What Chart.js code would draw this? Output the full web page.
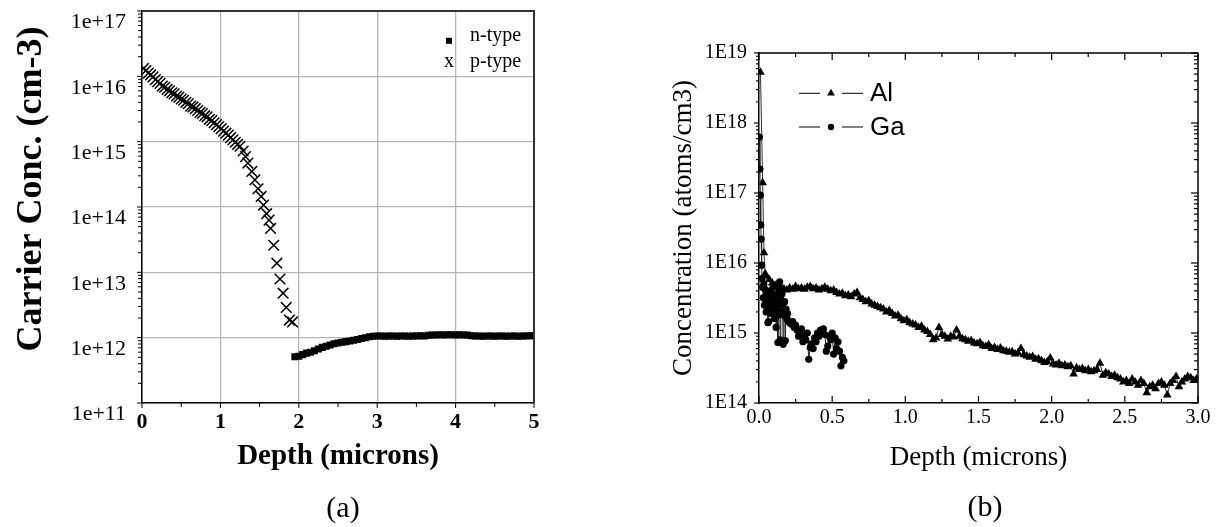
<!DOCTYPE html>
<html>
<head>
<meta charset="utf-8">
<script src="https://cdn.jsdelivr.net/npm/chart.js@4/dist/chart.umd.min.js"></script>
<style>
  html, body { margin: 0; padding: 0; background: #fff; }
  body { width: 1216px; height: 527px; position: relative; overflow: hidden; }
  canvas { position: absolute; top: 0; }
  #ca { left: 0; }
  #cb { left: 620px; }
  .cap { position: absolute; font-family: 'Liberation Serif', 'Times New Roman', serif; font-size: 30px; color: #000; line-height: 1; transform: translate(-50%, -50%); white-space: nowrap; }
</style>
</head>
<body>
<canvas id="ca" width="580" height="527"></canvas>
<canvas id="cb" width="596" height="527"></canvas>
<div class="cap" style="left:343px; top:507px;">(a)</div>
<div class="cap" style="left:985px; top:506px;">(b)</div>
<script>
// ---------------- Panel (a) data ----------------
const pDepth = [0.02,0.05,0.08,0.11,0.14,0.17,0.20,0.23,0.26,0.29,0.32,0.35,0.38,0.41,0.44,0.47,0.50,0.53,0.56,0.59,0.62,0.65,0.68,0.71,0.74,0.77,0.80,0.83,0.86,0.89,0.92,0.95,0.98,1.01,1.04,1.07,1.10,1.13,1.16,1.19,1.22,1.25,
  1.29,1.32,1.35,1.40,1.44,1.48,1.52,1.55,1.59,1.62,1.64,1.68,1.72,1.76,1.80,1.84,1.88,1.92];
const pConc = [1.32e16,1.23e16,1.12e16,1.05e16,9.8e15,8.9e15,8.3e15,7.8e15,7.1e15,6.8e15,6.3e15,6.0e15,5.6e15,5.4e15,5.0e15,4.8e15,4.5e15,4.3e15,4.0e15,3.8e15,3.5e15,3.4e15,3.2e15,3.0e15,2.8e15,2.7e15,2.5e15,2.4e15,2.2e15,2.1e15,1.95e15,1.82e15,1.70e15,1.58e15,1.45e15,1.35e15,1.26e15,1.15e15,1.07e15,9.8e14,9.1e14,8.5e14,
  7.2e14,5.9e14,4.7e14,3.5e14,2.6e14,1.9e14,1.45e14,1.07e14,7.9e13,6.3e13,4.7e13,2.6e13,1.38e13,7.9e12,4.8e12,2.9e12,1.86e12,1.74e12];

const nDepth = [1.95,2.00,2.05,2.10,2.15,2.20,2.25,2.30,2.35,2.40,2.45,2.50,2.55,2.60,2.65,2.70,2.75,2.80,2.85,2.90,2.95,
  3.00,3.05,3.10,3.15,3.20,3.25,3.30,3.35,3.40,3.45,3.50,3.55,3.60,3.65,3.70,3.75,3.80,3.85,3.90,3.95,
  4.00,4.05,4.10,4.15,4.20,4.25,4.30,4.35,4.40,4.45,4.50,4.55,4.60,4.65,4.70,4.75,4.80,4.85,4.90,4.95,5.00];
const nConc = [5.1e11,5.2e11,5.5e11,5.8e11,6.0e11,6.3e11,6.7e11,7.1e11,7.4e11,7.7e11,8.1e11,8.3e11,8.5e11,8.7e11,8.9e11,9.1e11,9.4e11,9.7e11,1.00e12,1.03e12,1.05e12,
  1.06e12,1.06e12,1.05e12,1.06e12,1.06e12,1.05e12,1.06e12,1.06e12,1.05e12,1.06e12,1.06e12,1.07e12,1.06e12,1.09e12,1.10e12,1.10e12,1.11e12,1.10e12,1.11e12,1.11e12,
  1.10e12,1.11e12,1.10e12,1.10e12,1.07e12,1.06e12,1.06e12,1.05e12,1.06e12,1.06e12,1.05e12,1.06e12,1.06e12,1.05e12,1.06e12,1.06e12,1.05e12,1.06e12,1.06e12,1.07e12,1.07e12];

const aXTicks = [0,1,2,3,4,5];
const aXMinor = [0.5,1.5,2.5,3.5,4.5];
const aYTicks = [1e11,1e12,1e13,1e14,1e15,1e16,1e17];

// ---------------- Panel (b) data ----------------
const alDepth = [0.010,0.025,0.034,0.042,
  0.05,0.07,0.09,0.11,0.13,0.15,0.17,0.19,0.21,0.23,0.25,0.27,0.29,0.31,0.33,0.35,0.37,0.39,0.41,0.43,0.45,0.47,0.49,
  0.51,0.53,0.55,0.57,0.59,0.61,0.63,0.65,0.67,0.69,0.71,0.73,0.75,0.77,0.79,0.81,0.83,0.85,0.87,0.89,0.91,0.93,0.95,0.97,0.99,
  1.01,1.03,1.05,1.07,1.09,1.11,1.13,1.15,1.17,1.19,1.21,1.23,1.25,1.27,1.29,1.31,1.33,1.35,1.37,1.39,1.41,1.43,1.45,1.47,1.49,
  1.51,1.53,1.55,1.57,1.59,1.61,1.63,1.65,1.67,1.69,1.71,1.73,1.75,1.77,1.79,1.81,1.83,1.85,1.87,1.89,1.91,1.93,1.95,1.97,1.99,
  2.01,2.03,2.05,2.07,2.09,2.11,2.13,2.15,2.17,2.19,2.21,2.23,2.25,2.27,2.29,2.31,2.33,2.35,2.37,2.39,2.41,2.43,2.45,2.47,2.49,
  2.51,2.53,2.55,2.57,2.59,2.61,2.63,2.65,2.67,2.69,2.71,2.73,2.75,2.77,2.79,2.81,2.83,2.85,2.87,2.89,2.91,2.93,2.95,2.97,2.99];
const alConc = [5.3e18,1.4e17,1.4e16,7.0e15,
  6.5e15,5.8e15,5.2e15,4.8e15,4.6e15,4.5e15,4.3e15,4.1e15,4.4e15,4.2e15,
  4.6e15,4.3e15,4.4e15,4.2e15,4.5e15,4.6e15,4.3e15,4.4e15,4.1e15,4.3e15,
  4.5e15,4.2e15,4.0e15,4.1e15,3.8e15,3.6e15,3.7e15,3.4e15,3.5e15,3.3e15,
  3.6e15,3.8e15,3.2e15,3.0e15,2.8e15,2.9e15,2.6e15,2.5e15,2.4e15,2.3e15,
  2.2e15,2.0e15,2.1e15,1.9e15,1.75e15,1.8e15,1.6e15,1.5e15,
  1.55e15,1.4e15,1.35e15,1.3e15,1.2e15,1.25e15,1.1e15,1.05e15,9.5e14,8.0e14,
  8.5e14,1.2e15,9.5e14,9.0e14,8.2e14,9.0e14,8.8e14,1.1e15,9.0e14,8.3e14,
  8.0e14,7.6e14,7.8e14,7.2e14,7.0e14,7.3e14,6.6e14,6.4e14,6.8e14,6.0e14,
  6.2e14,5.8e14,6.1e14,5.6e14,5.5e14,5.3e14,5.4e14,5.0e14,5.2e14,6.0e14,
  4.9e14,4.7e14,4.5e14,4.6e14,4.2e14,4.3e14,4.0e14,3.8e14,3.9e14,4.4e14,
  3.6e14,3.5e14,3.7e14,3.4e14,3.5e14,3.3e14,3.4e14,2.6e14,3.2e14,3.0e14,
  3.1e14,2.9e14,3.0e14,2.8e14,2.9e14,3.0e14,3.7e14,2.5e14,2.7e14,2.6e14,
  2.4e14,2.5e14,2.3e14,2.2e14,2.0e14,2.1e14,1.9e14,2.2e14,2.0e14,1.8e14,
  2.1e14,1.9e14,1.4e14,1.7e14,1.8e14,1.6e14,1.9e14,2.0e14,1.8e14,1.3e14,
  1.9e14,2.1e14,2.4e14,1.7e14,2.0e14,2.2e14,2.4e14,2.3e14,2.1e14,2.2e14];

const gaDepth = [0.003,0.006,0.009,0.012,0.015,0.018,0.021,
  0.025,0.029,0.033,0.037,0.041,0.045,0.049,0.053,0.057,0.061,
  0.065,0.069,0.073,0.077,0.081,0.085,0.089,0.093,0.097,0.101,
  0.105,0.109,0.113,0.117,0.121,0.125,0.129,0.133,0.137,0.141,
  0.145,0.149,0.153,0.157,0.161,0.165,
  0.170,0.175,0.180,0.185,0.190,0.195,0.200,
  0.21,0.22,0.23,0.24,0.25,0.26,0.27,0.28,0.29,0.30,
  0.31,0.32,0.33,0.34,0.35,0.36,0.37,0.38,0.39,0.40,
  0.41,0.42,0.43,0.44,0.45,0.46,0.47,0.48,0.49,0.50,
  0.51,0.52,0.53,0.54,0.55,0.56,0.57,0.58];
const gaConc = [6.3e17,2.2e17,9.3e16,3.5e16,2.2e16,9.3e15,6.0e15,
  4.5e15,3.2e15,5.0e15,2.5e15,4.2e15,3.0e15,2.0e15,3.8e15,2.6e15,1.4e15,
  1.45e15,3.5e15,2.2e15,4.0e15,2.8e15,1.9e15,3.3e15,2.4e15,4.5e15,2.0e15,
  1.6e15,3.0e15,2.2e15,1.2e15,3.6e15,1.8e15,7.3e14,2.5e15,4.2e15,5.4e15,
  8.0e14,3.0e15,2.0e15,3.6e15,2.6e15,6.9e14,
  1.8e15,2.8e15,7.8e14,2.2e15,1.6e15,1.9e15,1.5e15,
  1.4e15,1.35e15,1.45e15,1.2e15,1.3e15,1.1e15,9.0e14,1.0e15,1.15e15,7.5e14,
  9.2e14,8.0e14,1.0e15,4.2e14,6.2e14,7.0e14,6.0e14,8.5e14,7.5e14,1.0e15,
  9.0e14,1.1e15,1.0e15,1.15e15,9.5e14,5.5e14,6.5e14,9.0e14,8.0e14,1.0e15,
  5.0e14,8.5e14,6.0e14,7.5e14,5.5e14,3.4e14,4.5e14,4.0e14];

const bXTicks = [0,0.5,1,1.5,2,2.5,3];
const bXMinor = [0.25,0.75,1.25,1.75,2.25,2.75];
const bYTicks = [1e14,1e15,1e16,1e17,1e18,1e19];

// ---------------- helpers ----------------
function pts(xs, ys) { return xs.map((x, i) => ({ x: x, y: ys[i] })); }
function logMinors(ticks) {
  const out = [];
  for (let i = 0; i < ticks.length - 1; i++) for (let m = 2; m <= 9; m++) out.push(ticks[i] * m);
  return out;
}
const SERIF = "'Liberation Serif', 'Times New Roman', serif";
const SANS = "'Liberation Sans', Arial, sans-serif";

function drawMarker(ctx, style, x, y, r) {
  ctx.beginPath();
  if (style === 'rect') { ctx.fillRect(x - r, y - r, 2 * r, 2 * r); return; }
  if (style === 'triangle') {
    ctx.moveTo(x, y - r); ctx.lineTo(x + r * 0.866, y + r * 0.5); ctx.lineTo(x - r * 0.866, y + r * 0.5); ctx.closePath(); ctx.fill(); return;
  }
  ctx.arc(x, y, r, 0, Math.PI * 2); ctx.fill();
}

// Frame + tick marks drawn through the chart's own scales
const frameTicks = {
  id: 'frameTicks',
  afterDraw(chart, args, o) {
    const { ctx, chartArea: a } = chart;
    const xs = chart.scales.x, ys = chart.scales.y;
    ctx.save();
    ctx.strokeStyle = o.frameColor;
    ctx.lineWidth = o.frameWidth;
    ctx.beginPath();
    ctx.moveTo(a.left, a.top); ctx.lineTo(a.right, a.top); ctx.lineTo(a.right, a.bottom);
    ctx.stroke();
    ctx.strokeStyle = '#000';
    ctx.lineWidth = o.tickWidth;
    const sides = o.sides;
    function mark(side, v, len) {
      const s = sides[side]; if (!s) return;
      const sign = s.dir === 'out' ? 1 : -1;
      ctx.beginPath();
      if (side === 'bottom' || side === 'top') {
        const px = xs.getPixelForValue(v);
        const y0 = side === 'bottom' ? a.bottom : a.top;
        const d = (side === 'bottom' ? 1 : -1) * sign * len;
        ctx.moveTo(px, y0); ctx.lineTo(px, y0 + d);
      } else {
        const py = ys.getPixelForValue(v);
        const x0 = side === 'left' ? a.left : a.right;
        const d = (side === 'left' ? -1 : 1) * sign * len;
        ctx.moveTo(x0, py); ctx.lineTo(x0 + d, py);
      }
      ctx.stroke();
    }
    for (const side of ['bottom', 'top']) {
      if (!sides[side]) continue;
      o.xMajor.forEach(v => mark(side, v, sides[side].major));
      o.xMinor.forEach(v => mark(side, v, sides[side].minor));
    }
    for (const side of ['left', 'right']) {
      if (!sides[side]) continue;
      o.yMajor.forEach(v => mark(side, v, sides[side].major));
      o.yMinor.forEach(v => mark(side, v, sides[side].minor));
    }
    ctx.restore();
  }
};

const figLegend = {
  id: 'figLegend',
  afterDraw(chart, args, o) {
    if (!o.items) return;
    const ctx = chart.ctx;
    ctx.save();
    for (const it of o.items) {
      const ds = chart.data.datasets.find(d => d.label === it.label);
      ctx.strokeStyle = '#000'; ctx.fillStyle = '#000'; ctx.lineWidth = 1;
      (it.lines || []).forEach(([x1, x2]) => { ctx.beginPath(); ctx.moveTo(x1, it.sy); ctx.lineTo(x2, it.sy); ctx.stroke(); });
      if (it.symbolText) {
        ctx.font = it.symbolFont; ctx.textAlign = 'center'; ctx.textBaseline = 'middle';
        ctx.fillText(it.symbolText, it.sx, it.sy);
      } else {
        drawMarker(ctx, ds.pointStyle, it.sx, it.sy, it.r);
      }
      ctx.font = o.font; ctx.textAlign = 'left'; ctx.textBaseline = 'middle';
      ctx.fillText(ds.label, it.tx, it.ty);
    }
    ctx.restore();
  }
};

Chart.defaults.font.family = SERIF;
Chart.defaults.color = '#000';

// ---------------- Chart (a) ----------------
new Chart(document.getElementById('ca'), {
  type: 'scatter',
  data: {
    datasets: [
      { label: 'n-type', data: pts(nDepth, nConc), pointStyle: 'rect', pointRadius: 3.2, backgroundColor: '#000', borderColor: '#000',
        showLine: true, borderWidth: 2.5 },
      { label: 'p-type', data: pts(pDepth, pConc), pointStyle: 'crossRot', pointRadius: 7.5, backgroundColor: '#000', borderColor: '#000', borderWidth: 1.5, showLine: false }
    ]
  },
  options: {
    responsive: false, animation: false, devicePixelRatio: 1, events: [],
    layout: { padding: { left: 0, top: 11, right: 46, bottom: 0 } },
    plugins: {
      legend: { display: false }, tooltip: { enabled: false },
      frameTicks: {
        frameColor: '#333', frameWidth: 2, tickWidth: 1,
        xMajor: aXTicks, xMinor: aXMinor, yMajor: aYTicks, yMinor: logMinors(aYTicks),
        sides: { bottom: { dir: 'out', major: 5, minor: 4 }, left: { dir: 'out', major: 5, minor: 4 } }
      },
      figLegend: {
        font: '20px ' + SERIF,
        items: [
          { label: 'n-type', sx: 449, sy: 40.8, r: 3, tx: 470, ty: 36 },
          { label: 'p-type', symbolText: 'x', symbolFont: '20px ' + SERIF, sx: 449, sy: 61.6, tx: 470, ty: 61.6 }
        ]
      }
    },
    scales: {
      x: {
        type: 'linear', min: 0, max: 5,
        afterBuildTicks: s => { s.ticks = aXTicks.map(v => ({ value: v })); },
        afterFit: s => { s.height = 124; s.paddingLeft = 0; s.paddingRight = 0; },
        ticks: { autoSkip: false, maxRotation: 0, padding: 6, font: { family: SERIF, size: 22, weight: 'bold' }, color: '#000', callback: v => String(v) },
        grid: { color: '#b4b4b4', lineWidth: 1.3, drawTicks: false },
        border: { display: true, color: '#000', width: 1.5 },
        title: { display: true, text: 'Depth (microns)', color: '#000', font: { family: SERIF, size: 29, weight: 'bold' }, padding: { top: 0, bottom: 53 } }
      },
      y: {
        type: 'logarithmic', min: 1e11, max: 1e17,
        afterBuildTicks: s => { s.ticks = aYTicks.map(v => ({ value: v })); },
        afterFit: s => { s.width = 142; s.paddingTop = 0; s.paddingBottom = 0; },
        ticks: { autoSkip: false, padding: 16, labelOffset: 11.5, font: { family: SERIF, size: 22 }, color: '#000',
          callback: v => '1e+' + Math.round(Math.log10(v)) },
        grid: { color: '#b4b4b4', lineWidth: 1.3, drawTicks: false },
        border: { display: true, color: '#000', width: 1.5 },
        title: { display: true, text: '    Carrier Conc. (cm-3)', color: '#000', font: { family: SERIF, size: 36, weight: 'bold' }, padding: { top: 10, bottom: 0 } }
      }
    }
  },
  plugins: [frameTicks, figLegend]
});

// ---------------- Chart (b) ----------------
new Chart(document.getElementById('cb'), {
  type: 'scatter',
  data: {
    datasets: [
      { label: 'Ga', data: pts(gaDepth, gaConc), pointStyle: 'circle', pointRadius: 3.6, backgroundColor: '#000', borderColor: '#222', borderWidth: 1,
        pointBorderWidth: 0, showLine: true },
      { label: 'Al', data: pts(alDepth, alConc), pointStyle: 'triangle', pointRadius: 5, backgroundColor: '#000', borderColor: '#333', borderWidth: 1,
        pointBorderWidth: 0, showLine: true }
    ]
  },
  options: {
    responsive: false, animation: false, devicePixelRatio: 1, events: [],
    layout: { padding: { left: 0, top: 53, right: 18, bottom: 0 } },
    plugins: {
      legend: { display: false }, tooltip: { enabled: false },
      frameTicks: {
        frameColor: '#000', frameWidth: 1.5, tickWidth: 1.2,
        xMajor: bXTicks, xMinor: bXMinor, yMajor: bYTicks, yMinor: logMinors(bYTicks),
        sides: {
          bottom: { dir: 'in', major: 7, minor: 4 }, top: { dir: 'in', major: 7, minor: 4 },
          left: { dir: 'out', major: 5, minor: 3 }, right: { dir: 'in', major: 7, minor: 4 }
        }
      },
      figLegend: {
        font: '26px ' + SANS,
        items: [
          { label: 'Al', sx: 211, sy: 93.3, r: 4.5, lines: [[179, 200], [222, 243]], tx: 250, ty: 94.3 },
          { label: 'Ga', sx: 211, sy: 127, r: 3.2, lines: [[179, 200], [222, 243]], tx: 250, ty: 127.7 }
        ]
      }
    },
    scales: {
      x: {
        type: 'linear', min: 0, max: 3,
        afterBuildTicks: s => { s.ticks = bXTicks.map(v => ({ value: v })); },
        afterFit: s => { s.height = 124; s.paddingLeft = 0; s.paddingRight = 0; },
        ticks: { autoSkip: false, maxRotation: 0, padding: 3, font: { family: SERIF, size: 20 }, color: '#000', callback: v => Number(v).toFixed(1) },
        grid: { display: false, drawTicks: false },
        border: { display: true, color: '#000', width: 1.5 },
        title: { display: true, text: 'Depth (microns)', color: '#000', font: { family: SERIF, size: 27 }, padding: { top: 0, bottom: 53 } }
      },
      y: {
        type: 'logarithmic', min: 1e14, max: 1e19,
        afterBuildTicks: s => { s.ticks = bYTicks.map(v => ({ value: v })); },
        afterFit: s => { s.width = 139; s.paddingTop = 0; s.paddingBottom = 0; },
        ticks: { autoSkip: false, padding: 12, font: { family: SERIF, size: 20 }, color: '#000',
          callback: v => '1E' + Math.round(Math.log10(v)) },
        grid: { display: false, drawTicks: false },
        border: { display: true, color: '#000', width: 1.5 },
        title: { display: true, text: 'Concentration (atoms/cm3)', color: '#000', font: { family: SERIF, size: 27 }, padding: { top: 48, bottom: 0 } }
      }
    }
  },
  plugins: [frameTicks, figLegend]
});
</script>
</body>
</html>
